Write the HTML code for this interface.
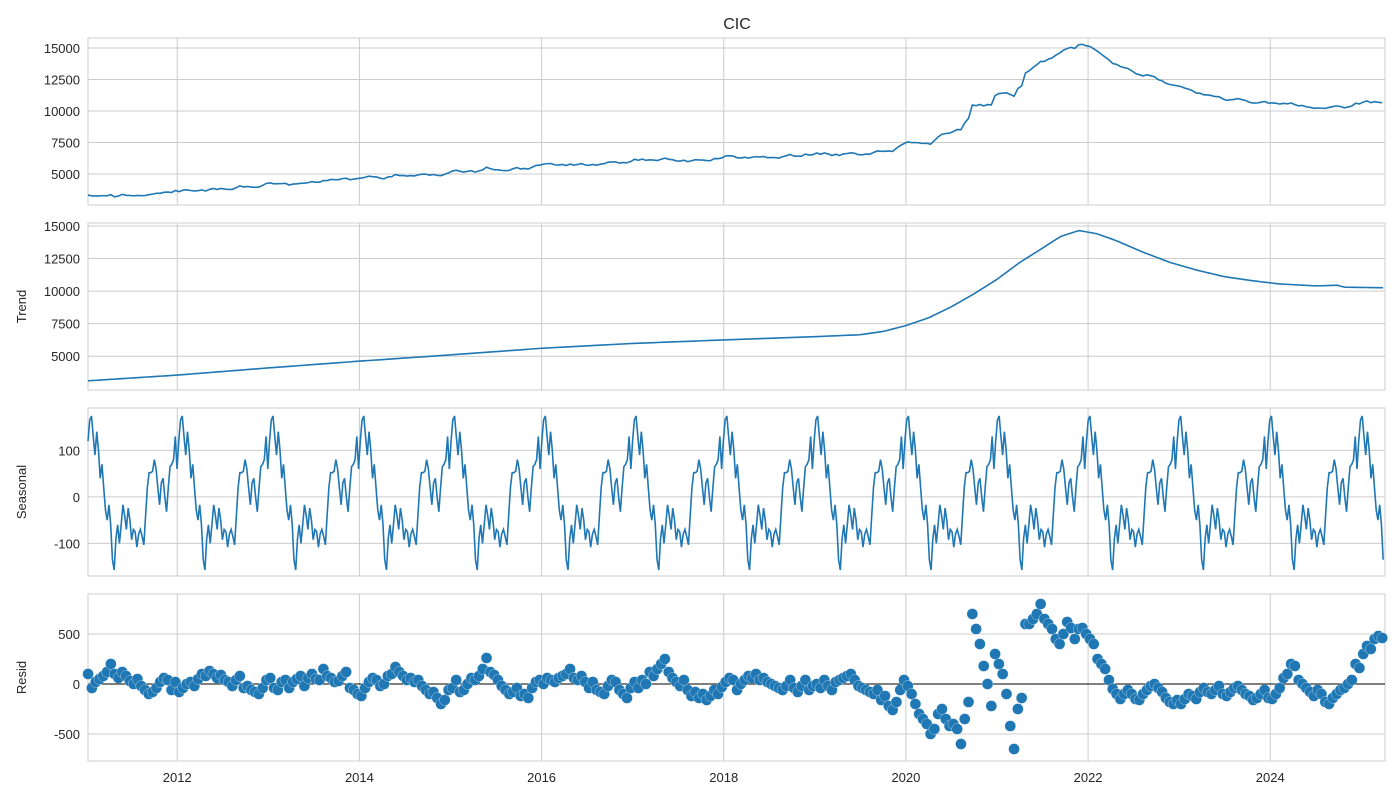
<!DOCTYPE html>
<html><head><meta charset="utf-8"><style>
body{margin:0;background:#fff;}
svg text{font-family:"Liberation Sans","DejaVu Sans",sans-serif;fill:#262626;}
</style></head><body>
<svg id="chart" width="1400" height="800" xmlns="http://www.w3.org/2000/svg">
<text x="737" y="29" font-size="16" text-anchor="middle">CIC</text>
</svg>
<script>
// ---- data ----
const trendYears = [2011.0,2012.0,2013.0,2014.0,2015.0,2016.0,2017.0,2018.0,2019.0,2019.5,2019.75,2020.0,2020.25,2020.5,2020.75,2021.0,2021.25,2021.5,2021.7,2021.9,2022.1,2022.3,2022.6,2022.9,2023.2,2023.5,2023.8,2024.1,2024.5,2024.75,2024.8,2025.3];
const trendValues = [3100,3550,4100,4620,5100,5610,5980,6250,6500,6650,6900,7350,7950,8800,9800,10900,12200,13300,14200,14650,14400,13900,13000,12200,11600,11100,10800,10550,10400,10450,10300,10250];
const seasonalPattern = [60,120,165,174,130,90,140,100,40,70,20,-28,-50,-17,-60,-135,-157,-90,-60,-100,-60,-17,-40,-70,-24,-50,-92,-70,-75,-108,-80,-70,-85,-103,-40,20,52,52,55,80,60,20,-17,30,40,0,-32,20,65,70,80,130];
const residYearStart = 2011;
const residValues = [
100,-40,20,50,80,120,200,100,60,120,80,30,0,50,-20,-60,-100,-80,-40,20,60,40,-60,20,
-80,-40,0,20,-20,50,100,80,130,100,60,90,40,20,-20,40,80,-40,-20,-60,-80,-100,-40,40,
60,-40,-60,20,40,-40,20,50,80,-20,60,100,50,40,150,80,60,20,30,80,120,-40,-60,-100,
-120,-40,20,60,40,-20,0,80,100,170,120,80,40,60,20,40,-20,-60,-100,-80,-140,-200,-160,-60,
-40,40,-80,-60,0,60,40,80,150,260,120,90,40,-20,-60,-100,-80,-40,-120,-100,-140,-40,20,40,
0,60,40,20,60,80,100,150,60,40,80,20,-40,20,-60,-80,-100,-20,40,20,-60,-100,-140,-40,
20,-40,40,0,120,80,150,200,250,120,60,20,-20,40,-60,-120,-80,-140,-100,-160,-120,-60,-100,-30,
20,60,40,-60,0,40,80,60,100,40,60,20,0,-20,-40,-60,-20,40,-40,-80,-20,40,-60,-20,
0,-40,40,-20,-60,20,40,60,80,100,40,-20,-40,-60,-80,-100,-60,-160,-120,-220,-260,-180,-60,40,
-20,-100,-200,-300,-350,-400,-500,-450,-300,-250,-350,-420,-400,-450,-600,-350,-180,700,550,400,180,0,-220,300,
200,100,-100,-420,-650,-250,-140,600,600,650,700,800,650,600,550,450,400,500,620,560,450,550,560,500,
450,400,250,200,150,40,-50,-100,-150,-100,-60,-100,-150,-160,-100,-60,-20,0,-40,-80,-140,-180,-200,-160,
-200,-150,-100,-120,-150,-80,-40,-80,-100,-60,-20,-100,-120,-80,-40,-20,-60,-100,-120,-160,-140,-100,-60,-140,
-150,-100,-40,60,100,200,180,40,0,-40,-80,-120,-60,-100,-180,-200,-140,-100,-60,-40,0,40,200,160,
300,380,350,450,480,460];
const xTicks = [2012,2014,2016,2018,2020,2022,2024];
const obsTicks = [5000,7500,10000,12500,15000];
const trendTicks = [5000,7500,10000,12500,15000];
const seasTicks = [-100,0,100];
const residTicks = [-500,0,500];
const tStart = 2011.02, tEnd = 2025.26, nWeeks = 743;

// ---- layout ----
const svg = document.getElementById('chart');
const NS = 'http://www.w3.org/2000/svg';
const X0 = 88, X1 = 1385;
const x = t => X0 + (t - tStart) / (tEnd - tStart) * (X1 - X0);
const panels = [
 {name:'observed', top:38, bot:205, min:2540, max:15794, ticks:obsTicks, label:''},
 {name:'trend', top:223, bot:390, min:2405, max:15229, ticks:trendTicks, label:'Trend'},
 {name:'seasonal', top:408, bot:576, min:-170, max:191, ticks:seasTicks, label:'Seasonal'},
 {name:'resid', top:594, bot:761, min:-770, max:900, ticks:residTicks, label:'Resid'}
];
panels.forEach(p => p.y = v => p.bot - (v - p.min) / (p.max - p.min) * (p.bot - p.top));
function mk(tag, attrs, parent){
  const e = document.createElementNS(NS, tag);
  for (const k in attrs) e.setAttribute(k, attrs[k]);
  (parent||svg).appendChild(e); return e;
}
function trendAt(t){
  if (t <= trendYears[0]) return trendValues[0];
  for (let i=1;i<trendYears.length;i++){
    if (t <= trendYears[i]){
      const f=(t-trendYears[i-1])/(trendYears[i]-trendYears[i-1]);
      return trendValues[i-1]+f*(trendValues[i]-trendValues[i-1]);
    }
  }
  return trendValues[trendValues.length-1];
}
function seasAt(t){
  const i = Math.round((t - tStart) * 52.18);
  return seasonalPattern[((i+1)%52+52)%52];
}
const residTimes = residValues.map((v,k)=> residYearStart + (k+0.5)/24);

panels.forEach(p => {
  const g = mk('g', {});
  
  
  xTicks.forEach(t => {
    const l = mk('line', {x1:x(t),x2:x(t),y1:p.top,y2:p.bot,stroke:'#cccccc','stroke-width':1}, g);
    
    
  });
  p.ticks.forEach(v => {
    const yy = p.y(v);
    const l = mk('line', {x1:X0,x2:X1,y1:yy,y2:yy,stroke:'#cccccc','stroke-width':1}, g);
    
    
    const tx = mk('text', {x:X0-8,y:yy+5,'font-size':13,'text-anchor':'end'}, g);
    tx.textContent = v;
    
    
  });
  const fr = mk('rect', {x:X0,y:p.top,width:X1-X0,height:p.bot-p.top,fill:'none',stroke:'#cccccc','stroke-width':1}, g);
  
  
  if (p.label){
    const cy=(p.top+p.bot)/2;
    const lb = mk('text', {x:0,y:0,'font-size':13,'text-anchor':'middle',transform:`translate(26,${cy}) rotate(-90)`}, g);
    lb.textContent = p.label;
    
    
  }
  p.g = g;
});

// observed
{
  const p = panels[0];
  const pts = residTimes.filter(t=>t<=tEnd).map((t,k)=> [x(t), p.y(trendAt(t)+seasAt(t)+residValues[k])]);
  pts.unshift([x(tStart), p.y(trendAt(tStart)+seasAt(tStart)+residValues[0])]);
  const pl = mk('polyline',{points:pts.map(q=>q.join(',')).join(' '),fill:'none',stroke:'#1f77b4','stroke-width':1.6}, p.g);
  
  
}
// trend
{
  const p = panels[1];
  const pts = [];
  for (let i=0;i<=nWeeks;i+=2){ const t=tStart+i/52.18; pts.push([x(t),p.y(trendAt(t))]); }
  const pl = mk('polyline',{points:pts.map(q=>q.join(',')).join(' '),fill:'none',stroke:'#1f77b4','stroke-width':1.6}, p.g);
  
  
}
// seasonal
{
  const p = panels[2];
  const pts = [];
  for (let i=0;i<nWeeks;i++){ const t=tStart+i/52.18; pts.push([x(t),p.y(seasonalPattern[(i+1)%52])]); }
  const pl = mk('polyline',{points:pts.map(q=>q.join(',')).join(' '),fill:'none',stroke:'#1f77b4','stroke-width':1.6}, p.g);
  
  
}
// resid
{
  const p = panels[3];
  const zl = mk('line',{x1:X0,x2:X1,y1:p.y(0),y2:p.y(0),stroke:'#000','stroke-width':1}, p.g);
  
  
  residValues.forEach((v,k)=>{
    const t = residTimes[k];
    if (t > tEnd) return;
    const c = mk('circle',{cx:x(t),cy:p.y(v),r:5.5,fill:'#1f77b4',stroke:'#ffffff','stroke-width':0.3}, p.g);
    
    
  });
}
// x tick labels
xTicks.forEach(t=>{
  const tx = mk('text',{x:x(t),y:782,'font-size':13,'text-anchor':'middle'});
  tx.textContent = t;
  
  
});
</script>
</body></html>
